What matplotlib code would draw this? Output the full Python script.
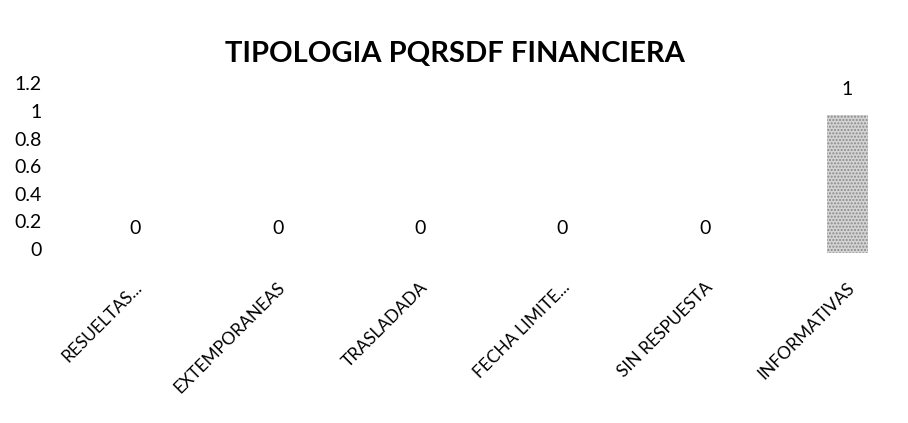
import matplotlib
matplotlib.use("Agg")
import matplotlib.pyplot as plt
import matplotlib.transforms as mtransforms

categories = ["RESUELTAS...", "EXTEMPORANEAS", "TRASLADADA", "FECHA LIMITE...",
              "SIN RESPUESTA", "INFORMATIVAS"]
values = [0, 0, 0, 0, 0, 1]
yticks = [0, 0.2, 0.4, 0.6, 0.8, 1, 1.2]
ytick_labels = ["0", "0.2", "0.4", "0.6", "0.8", "1", "1.2"]
title = "TIPOLOGIA PQRSDF FINANCIERA"

plt.rcParams['font.family'] = ['Lato', 'DejaVu Sans']

W, H = 908, 423
fig = plt.figure(figsize=(W / 100, H / 100), dpi=100)
ax_left, ax_right = 64, 918.6
ax_bottom, ax_top = 253, 87.4
ax = fig.add_axes([ax_left / W, 1 - ax_bottom / H,
                   (ax_right - ax_left) / W, (ax_bottom - ax_top) / H])

x = list(range(len(categories)))
bars = ax.bar(x, values, width=0.29, color='#d4d4d4', edgecolor='#8a8a8a',
              hatch='.....', linewidth=0)

for xi, v in zip(x, values):
    ax.annotate(str(v), (xi, v), xytext=(0, 18), textcoords='offset points',
                ha='center', va='center', fontsize=14, color='#000000')

ax.set_xlim(-0.5, len(categories) - 0.5)
ax.set_ylim(0, 1.2)
ax.set_yticks(yticks)
ax.set_yticklabels(ytick_labels, fontsize=14, color='#000000')
ax.set_xticks(x)
ax.set_xticklabels(categories, rotation=45, ha='right', va='top',
                   rotation_mode='anchor', fontsize=12.5, color='#000000')
ax.tick_params(axis='y', length=0, pad=16)
ax.tick_params(axis='x', length=0, pad=19)
xoff = mtransforms.ScaledTranslation(-1 / 100, 0, fig.dpi_scale_trans)
for lab in ax.get_xticklabels():
    lab.set_transform(lab.get_transform() + xoff)
yoff = mtransforms.ScaledTranslation(0, 4 / 100, fig.dpi_scale_trans)
for lab in ax.get_yticklabels():
    lab.set_transform(lab.get_transform() + yoff)

for s in ax.spines.values():
    s.set_visible(False)

fig.text(455 / W, 1 - 54 / H, title, ha='center', va='center',
         fontsize=21, fontweight='bold', color='#000000')

fig.savefig("out.png", dpi=100)
